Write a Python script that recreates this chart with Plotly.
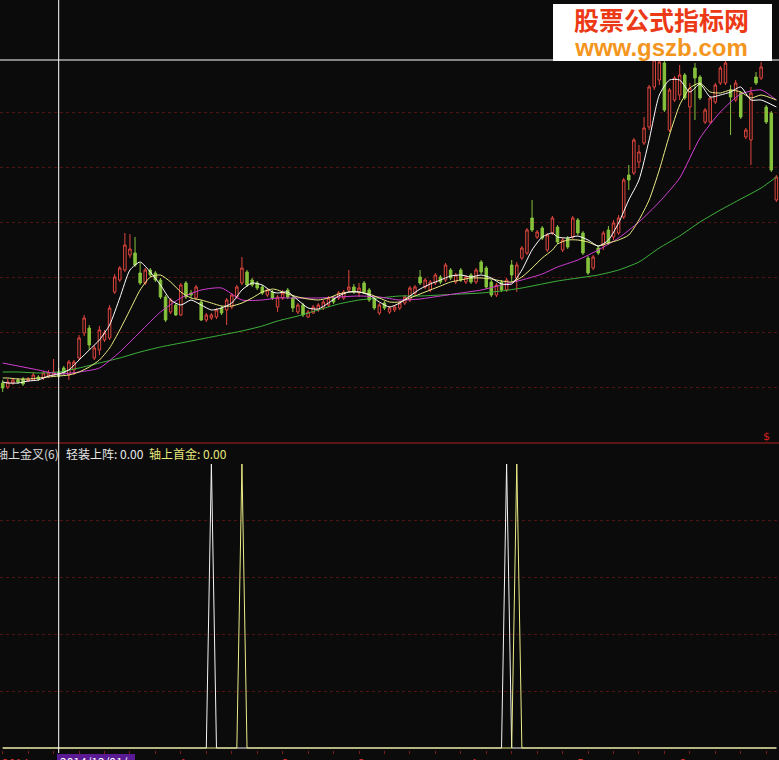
import plotly.graph_objects as go

# ---------------- data ----------------
opens = [6.0, 5.6, 6.0, 6.3, 6.4, 6.2, 6.3, 6.6, 6.5, 6.7, 6.8, 7.1, 7.5, 6.8, 7.3, 8.5, 11.0, 11.5, 8.5, 9.3,
         10.3, 10.5, 15.1, 16.3, 17.3, 18.8, 19.0, 17.0, 16.0, 17.3, 17.0, 16.3, 14.6, 13.1, 13.8, 12.8, 16.0, 15.0, 14.5, 14.1,
         12.3, 12.5, 12.6, 13.5, 13.3, 13.6, 14.6, 16.0, 17.1, 16.3, 16.0, 15.6, 14.8, 15.1, 13.6, 14.5, 15.3, 14.5, 13.1, 13.8,
         12.6, 13.0, 13.3, 13.5, 13.8, 14.5, 14.5, 14.5, 15.3, 15.6, 15.0, 16.0, 15.3, 14.5, 13.0, 14.0, 13.1, 13.3, 13.5, 14.0,
         14.3, 15.0, 16.6, 15.6, 15.3, 16.0, 16.6, 16.3, 17.3, 16.1, 17.3, 16.1, 16.8, 16.1, 18.1, 17.5, 16.1, 14.8, 16.1, 15.3,
         17.8, 16.5, 18.5, 19.0, 22.5, 20.6, 21.5, 19.3, 21.0, 21.6, 19.3, 20.5, 20.6, 22.3, 21.0, 18.5, 17.5, 19.5, 19.8, 21.3,
         20.6, 21.0, 22.6, 26.8, 27.0, 28.1, 30.0, 31.6, 35.6, 36.3, 38.0, 31.3, 34.3, 34.8, 36.8, 33.6, 37.5, 36.6, 32.1, 32.1,
         34.1, 36.0, 36.0, 35.3, 34.3, 35.0, 30.6, 30.3, 36.6, 36.5, 33.6, 33.0, 24.3]
highs = [6.3, 6.4, 6.5, 6.5, 6.6, 6.6, 7.1, 6.8, 7.2, 7.3, 8.4, 7.5, 7.7, 8.3, 8.3, 10.8, 12.8, 11.8, 9.8, 11.7,
         11.3, 13.8, 16.9, 17.7, 21.0, 20.9, 20.6, 18.0, 17.5, 17.5, 17.2, 16.5, 14.8, 14.5, 14.0, 16.0, 16.2, 15.3, 15.8, 14.3,
         13.0, 13.0, 13.5, 13.7, 14.5, 15.0, 15.8, 18.6, 17.3, 16.5, 16.2, 15.8, 15.5, 15.3, 14.8, 15.3, 15.5, 14.7, 14.0, 14.0,
         13.3, 13.8, 14.0, 14.3, 14.7, 14.7, 15.2, 15.3, 17.3, 15.9, 16.0, 16.2, 15.5, 14.7, 14.0, 14.2, 13.7, 13.8, 14.2, 14.8,
         15.7, 15.8, 17.3, 16.5, 16.3, 17.0, 16.8, 18.0, 17.5, 17.0, 17.5, 16.8, 17.0, 17.5, 18.3, 17.7, 16.3, 16.0, 16.3, 16.5,
         18.3, 18.1, 19.7, 21.5, 24.3, 21.3, 21.7, 21.0, 22.7, 21.8, 20.5, 20.7, 22.7, 22.5, 21.2, 18.7, 18.8, 19.7, 21.2, 21.7,
         22.3, 22.8, 26.5, 27.8, 30.5, 29.8, 32.6, 35.8, 38.5, 38.8, 38.3, 35.5, 36.7, 37.8, 37.0, 36.0, 38.0, 36.8, 33.5, 34.7,
         36.0, 37.7, 38.2, 35.8, 36.3, 35.2, 31.5, 35.6, 37.1, 38.1, 33.8, 33.2, 26.8]
lows = [5.1, 5.4, 5.8, 5.9, 5.7, 6.1, 6.2, 6.2, 6.3, 6.5, 6.7, 6.5, 6.8, 6.3, 6.8, 8.3, 10.7, 9.3, 8.3, 8.8,
        10.1, 10.3, 14.9, 16.1, 17.1, 18.5, 17.6, 15.8, 15.8, 16.6, 16.1, 14.4, 12.1, 12.9, 12.7, 12.7, 14.4, 14.5, 14.3, 12.2,
        12.1, 12.3, 12.4, 12.8, 11.8, 13.4, 14.4, 15.8, 15.6, 15.6, 15.3, 14.8, 14.6, 14.3, 13.1, 14.3, 14.4, 13.1, 12.9, 12.6,
        12.5, 12.9, 13.1, 13.3, 13.6, 13.9, 14.3, 14.3, 15.1, 14.9, 14.6, 14.9, 14.1, 13.3, 12.8, 13.3, 12.9, 13.1, 13.3, 13.8,
        14.1, 14.8, 15.8, 15.4, 15.1, 15.8, 15.9, 16.1, 16.3, 15.9, 16.1, 15.9, 15.9, 15.9, 16.9, 15.4, 14.6, 14.6, 15.1, 15.1,
        16.1, 15.1, 18.3, 18.8, 21.1, 20.4, 20.3, 19.1, 20.8, 19.9, 19.1, 19.4, 20.4, 20.8, 18.8, 16.8, 17.3, 18.8, 19.3, 19.8,
        20.3, 20.8, 22.4, 25.3, 26.8, 27.5, 29.8, 31.3, 35.3, 35.8, 33.1, 31.1, 34.1, 34.3, 34.3, 29.3, 32.3, 34.3, 31.9, 31.9,
        33.9, 35.8, 35.8, 30.8, 34.1, 32.4, 30.4, 27.8, 35.8, 36.3, 31.9, 27.1, 24.1]
closes = [5.5, 6.1, 6.3, 6.1, 5.9, 6.4, 6.8, 6.4, 7.0, 7.0, 7.1, 6.7, 7.0, 8.1, 8.1, 10.5, 12.5, 9.8, 9.5, 11.3,
          11.0, 13.5, 16.6, 17.5, 19.8, 19.4, 17.8, 16.0, 17.3, 16.8, 16.3, 14.6, 12.3, 14.3, 12.8, 15.8, 14.6, 14.8, 15.6, 12.3,
          12.8, 12.8, 13.3, 13.0, 14.3, 14.8, 15.6, 17.5, 15.8, 15.8, 15.5, 15.0, 15.3, 14.5, 14.6, 15.0, 14.6, 13.5, 13.8, 12.8,
          13.1, 13.6, 13.8, 14.1, 14.5, 14.1, 15.0, 15.1, 15.6, 15.1, 15.5, 15.1, 14.3, 13.5, 13.8, 13.5, 13.5, 13.6, 14.0, 14.6,
          15.5, 15.6, 16.0, 16.3, 16.1, 16.8, 16.1, 17.8, 16.5, 16.8, 16.3, 16.6, 16.1, 17.3, 17.1, 15.6, 14.8, 15.8, 15.3, 16.3,
          16.8, 17.8, 19.5, 21.3, 21.3, 21.1, 20.5, 20.8, 22.5, 20.1, 20.3, 19.6, 22.5, 21.0, 19.0, 17.0, 18.6, 19.0, 21.0, 20.0,
          22.0, 22.5, 26.3, 26.3, 30.3, 29.1, 31.5, 35.6, 38.3, 38.1, 33.3, 35.3, 36.5, 36.8, 34.5, 35.5, 36.5, 34.5, 33.3, 34.5,
          35.8, 37.5, 38.0, 34.6, 36.0, 32.6, 31.3, 35.0, 36.0, 37.6, 32.1, 27.3, 26.6]
bars = list(range(len(closes)))

# moving averages (read at these bars)
ma_fast_bars = [0, 1, 3, 5, 7, 9, 11, 13, 15, 17, 19, 21, 23, 25, 27, 29, 31, 33, 35, 37, 39, 41, 43, 45, 47, 49,
                51, 53, 54, 56, 58, 60, 62, 64, 66, 68, 70, 72, 74, 76, 78, 80, 82, 84, 86, 88, 90, 92, 94, 96,
                98, 100, 102, 104, 106, 108, 109, 111, 113, 115, 117, 119, 121, 123, 125, 127, 129, 131, 133, 135,
                137, 139, 141, 143, 145, 147, 149, 152]
ma5 = [6.1, 6.0, 6.0, 6.2, 6.3, 6.7, 6.9, 7.3, 8.3, 9.3, 10.3, 11.8, 14.5, 17.3, 18.1, 17.1, 15.8, 14.3, 13.8, 14.3,
       13.8, 13.3, 13.5, 14.0, 15.3, 16.0, 15.8, 15.1, 15.0, 15.1, 14.3, 13.5, 13.4, 14.0, 14.7, 15.1, 15.1, 14.8, 14.1, 13.6,
       14.0, 14.7, 15.4, 15.9, 16.3, 16.7, 16.8, 16.6, 16.8, 16.5, 15.9, 15.9, 17.3, 19.3, 20.6, 21.0, 20.6, 20.5, 20.7, 20.3,
       19.7, 20.3, 22.0, 24.3, 26.3, 30.3, 34.8, 36.3, 36.3, 35.1, 35.9, 34.6, 34.8, 35.1, 35.6, 34.3, 34.3, 33.6]
ma10 = [6.5, 6.5, 6.4, 6.4, 6.5, 6.6, 6.7, 6.8, 7.1, 7.6, 8.3, 9.5, 11.3, 13.3, 15.3, 16.6, 16.8, 16.1, 15.1, 14.5,
        14.3, 14.0, 13.7, 13.7, 14.0, 14.5, 15.1, 15.4, 15.3, 14.9, 14.6, 14.4, 14.3, 14.5, 14.9, 15.1, 15.1, 14.9, 14.5, 14.1,
        14.1, 14.5, 14.9, 15.3, 15.7, 16.1, 16.3, 16.5, 16.5, 16.4, 16.2, 16.1, 16.6, 17.5, 18.5, 19.3, 19.9, 20.3, 20.3, 20.1,
        19.7, 20.0, 20.3, 20.8, 22.3, 24.3, 27.3, 30.8, 33.8, 35.5, 36.0, 35.1, 35.0, 35.3, 35.1, 34.5, 34.8, 34.3]
ma_slow_bars = [0, 3, 7, 11, 15, 19, 23, 27, 31, 35, 39, 43, 47, 51, 54, 58, 62, 66, 70, 74, 78, 82, 86, 90, 94, 98,
                102, 106, 109, 113, 117, 121, 125, 129, 133, 137, 141, 145, 149, 152]
ma20 = [8.0, 7.7, 7.3, 6.9, 7.1, 7.5, 9.1, 11.1, 13.1, 14.5, 15.3, 15.5, 14.3, 14.3, 14.5, 14.5, 14.5, 14.6, 14.7, 14.6,
        14.3, 14.4, 14.7, 15.0, 15.3, 15.8, 16.3, 16.9, 17.6, 18.3, 19.3, 20.5, 22.1, 24.1, 26.5, 30.5, 33.1, 34.9, 35.3, 34.3]
ma60 = [7.1, 7.1, 7.0, 7.1, 7.5, 8.0, 8.5, 9.1, 9.6, 10.0, 10.4, 10.8, 11.2, 11.7, 12.2, 12.7, 13.3, 13.9, 14.3, 14.5,
        14.7, 14.7, 14.8, 14.9, 15.0, 15.2, 15.5, 15.9, 16.2, 16.5, 16.8, 17.3, 18.1, 19.5, 20.7, 22.1, 23.3, 24.4, 25.5, 26.6]

# indicator 轴上金叉(6): signal bars
light_signal_bars = [41, 99]      # 轻装上阵 (white)
first_gold_bars = [47, 101]       # 轴上首金 (yellow)

crosshair_bar = 11
crosshair_price = 38.3
cursor_date = "2014/12/01/一"
month_bars = [34, 54, 69, 91, 112, 132]
month_labels = ["1", "2", "3", "4", "5", "6"]

# ---------------- styling ----------------
BG = "#0b0b0b"
RED = "#e0463e"
GRN = "#86c23c"
GRID = "#521212"
W, H = 779, 760
CJK = "Noto Sans CJK SC"

def py(p):
    """pixel row from top -> paper y"""
    return 1 - p / H

light_series = [1 if b in light_signal_bars else 0 for b in bars]
gold_series = [1 if b in first_gold_bars else 0 for b in bars]

fig = go.Figure()
fig.add_trace(go.Candlestick(
    x=bars, open=opens, high=highs, low=lows, close=closes,
    increasing=dict(line=dict(color=RED, width=1), fillcolor=BG),
    decreasing=dict(line=dict(color=GRN, width=1), fillcolor=GRN),
    whiskerwidth=0, hoverinfo="skip", xaxis="x", yaxis="y"))

for xs, ys, col in [(ma_slow_bars, ma60, "#3fb43c"), (ma_slow_bars, ma20, "#d43fd4"),
                    (ma_fast_bars, ma10, "#ecec86"), (ma_fast_bars, ma5, "#ffffff")]:
    fig.add_trace(go.Scatter(x=xs, y=ys, mode="lines",
                             line=dict(color=col, width=1, shape="spline", smoothing=0.6),
                             hoverinfo="skip", xaxis="x", yaxis="y"))

fig.add_trace(go.Scatter(x=bars, y=light_series, mode="lines", line=dict(color="#f4f4f4", width=1),
                         hoverinfo="skip", xaxis="x2", yaxis="y2"))
fig.add_trace(go.Scatter(x=bars, y=gold_series, mode="lines", line=dict(color="#ecec86", width=1),
                         hoverinfo="skip", xaxis="x2", yaxis="y2"))

d = 5.09
x0 = 2.7
xr = [-x0 / d, (W - x0) / d]

fig.update_layout(
    width=W, height=H, margin=dict(l=0, r=0, t=0, b=0),
    paper_bgcolor=BG, plot_bgcolor=BG, showlegend=False, hovermode=False,
    font=dict(family=CJK, size=12, color="#e0e0e0"),
    xaxis=dict(domain=[0, 1], range=xr, anchor="y", showgrid=False, zeroline=False,
               showticklabels=False, ticks="", rangeslider=dict(visible=False), fixedrange=True),
    yaxis=dict(domain=[py(443), 1], range=[0, 44.3], anchor="x",
               tickvals=[5.6, 11.1, 16.6, 22.1, 27.6, 33.1], showticklabels=False,
               showgrid=True, gridcolor=GRID, griddash="dot", gridwidth=1, zeroline=False, ticks=""),
    xaxis2=dict(domain=[0, 1], range=xr, anchor="y2", showgrid=False, zeroline=False,
                showticklabels=False, ticks="outside", ticklen=3, tickcolor="#7c1c1c",
                tickvals=list(range(0, 153, 5)), showline=False),
    yaxis2=dict(domain=[py(750), py(449)], range=[-2 / 284, 299 / 284], anchor="x2",
                tickvals=[0.2, 0.4, 0.6, 0.8], showticklabels=False, showgrid=True,
                gridcolor=GRID, griddash="dot", gridwidth=1, zeroline=False, ticks=""),
)

shapes = [
    dict(type="line", xref="paper", yref="paper", x0=0, x1=1, y0=py(443), y1=py(443),
         line=dict(color="#b01e1e", width=1)),
    dict(type="line", xref="x", yref="paper", x0=crosshair_bar, x1=crosshair_bar, y0=py(753), y1=1,
         line=dict(color="#ffffff", width=1), layer="above"),
    dict(type="line", xref="paper", yref="y", x0=0, x1=1, y0=crosshair_price, y1=crosshair_price,
         line=dict(color="#ffffff", width=1), layer="above"),
    dict(type="rect", xref="paper", yref="paper", x0=57 / W, x1=135 / W, y0=-0.02, y1=py(754),
         fillcolor="#5a1a94", line=dict(width=0), layer="above"),
    dict(type="rect", xref="paper", yref="paper", x0=553 / W, x1=772 / W, y0=py(61), y1=py(4),
         fillcolor="#ffffff", line=dict(width=0), layer="above"),
]
fig.update_layout(shapes=shapes)

logo_text = ("<b><span style='color:#ec3a16;font-size:25px'>股票公式指标网</span></b><br>"
             "<b><span style='color:#f4961e;font-size:24px;font-family:Liberation Sans'>www.gszb.com</span></b>")

ann = [
    dict(text="轴上金叉(6)", x=-6 / W, y=py(453), xanchor="left", yanchor="middle",
         font=dict(size=12, color="#dcdcdc", family=CJK)),
    dict(text="轻装上阵: 0.00", x=64 / W, y=py(453), xanchor="left", yanchor="middle",
         font=dict(size=12, color="#e8e8e8", family=CJK)),
    dict(text="轴上首金: 0.00", x=147 / W, y=py(453), xanchor="left", yanchor="middle",
         font=dict(size=12, color="#e6e67a", family=CJK)),
    dict(text="$", x=766 / W, y=py(436), xanchor="center", yanchor="middle",
         font=dict(size=11, color="#d82020", family="DejaVu Sans")),
    dict(text=logo_text, x=661 / W, y=py(31), xanchor="center", yanchor="middle", align="center",
         font=dict(size=20, color="#ec3a16", family=CJK)),
    dict(text=cursor_date, x=58 / W, y=py(751), xanchor="left", yanchor="top",
         font=dict(size=12, color="#ffffff", family=CJK)),
    dict(text="2014", x=0, y=py(752), xanchor="left", yanchor="top",
         font=dict(size=12, color="#c83030", family=CJK)),
]
for b, lab in zip(month_bars, month_labels):
    ann.append(dict(text=lab, x=b, xref="x", y=py(752), yref="paper", xanchor="left", yanchor="top",
                    xshift=2, font=dict(size=12, color="#c83030", family=CJK)))
for a in ann:
    a.setdefault("xref", "paper")
    a.setdefault("yref", "paper")
    a["showarrow"] = False
fig.update_layout(annotations=ann)

fig.write_html("out.html", include_plotlyjs=True,
               config=dict(displayModeBar=False, staticPlot=True),
               post_script="document.body.style.margin='0';document.body.style.overflow='hidden';"
                           "document.body.style.background='#0b0b0b';")
